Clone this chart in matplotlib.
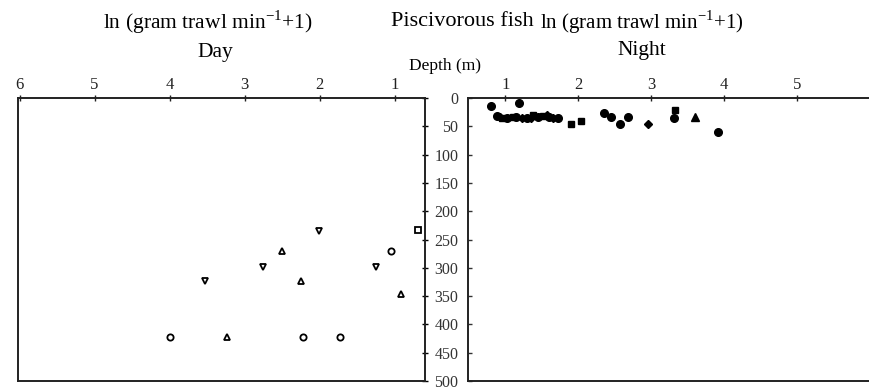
import matplotlib.pyplot as plt

plt.rcParams['font.family'] = ['Liberation Serif', 'DejaVu Serif']
plt.rcParams['mathtext.fontset'] = 'custom'
plt.rcParams['mathtext.rm'] = 'Liberation Serif'

# Day catches (open markers), depth in m
day_circle_x = [1.05, 4.0, 2.22, 1.73]
day_circle_d = [270, 422, 422, 422]
day_tri_x = [2.51, 2.25, 0.92, 3.24]
day_tri_d = [270, 323, 346, 422]
day_vtri_x = [2.01, 2.76, 1.25, 3.53]
day_vtri_d = [235, 298, 298, 323]
day_sq_x = [0.69]
day_sq_d = [234]

# Night catches (filled markers)
night_circle_x = [0.80, 1.19, 0.88, 1.02, 1.15, 1.30, 1.45, 1.60, 1.72,
                  2.35, 2.45, 2.57, 2.68, 3.31, 3.92]
night_circle_d = [14, 9, 32, 35, 34, 35, 33, 34, 36,
                  27, 34, 46, 34, 36, 60]
night_sq_x = [0.95, 1.10, 1.38, 1.52, 1.90, 2.03, 3.32]
night_sq_d = [36, 34, 30, 32, 46, 40, 21]
night_dia_x = [0.92, 1.22, 1.35, 1.57, 1.65, 2.96]
night_dia_d = [33, 36, 35, 30, 36, 46]
night_tri_x = [3.60]
night_tri_d = [34]

depth_ticks = list(range(0, 501, 50))

fig = plt.figure(figsize=(8.7, 3.89), dpi=100)
ax_day = fig.add_axes([18 / 870, 1 - 381 / 389, 407 / 870, 283 / 389])
ax_night = fig.add_axes([468 / 870, 1 - 381 / 389, 402 / 870, 283 / 389])

ms = 4.5
ax_day.plot(day_circle_x, day_circle_d, 'o', ms=ms, mfc='white', mec='black', mew=1.3)
ax_day.plot(day_tri_x, day_tri_d, '^', ms=ms, mfc='white', mec='black', mew=1.3)
ax_day.plot(day_vtri_x, day_vtri_d, 'v', ms=ms, mfc='white', mec='black', mew=1.3)
ax_day.plot(day_sq_x, day_sq_d, 's', ms=ms, mfc='white', mec='black', mew=1.3)

ms_n = 5.5
ax_night.plot(night_circle_x, night_circle_d, 'o', ms=ms_n, color='black')
ax_night.plot(night_sq_x, night_sq_d, 's', ms=ms_n - 0.5, color='black')
ax_night.plot(night_dia_x, night_dia_d, 'D', ms=ms_n - 1, color='black')
ax_night.plot(night_tri_x, night_tri_d, '^', ms=ms_n, color='black')

ax_day.set_xlim(6.02, 0.6)
ax_night.set_xlim(0.486, 5.92)
for ax in (ax_day, ax_night):
    ax.set_ylim(500, 0)
    ax.set_yticks(depth_ticks)
    ax.set_xticks([1, 2, 3, 4, 5, 6])
    ax.xaxis.tick_top()
    for s in ax.spines.values():
        s.set_linewidth(1.4)
        s.set_color('#222222')
    ax.tick_params(axis='x', direction='inout', length=4, width=1, pad=1.5,
                   labelsize=12, colors='#222222')

ax_day.yaxis.tick_right()
ax_day.tick_params(axis='y', direction='inout', length=4, width=1,
                   labelright=False)
ax_night.spines['right'].set_visible(False)
ax_night.tick_params(axis='y', direction='in', length=3, width=1, pad=7,
                     labelsize=11.5, colors='#333333')
ax_night.set_xticks([1, 2, 3, 4, 5])

lab = r'ln (gram trawl min$^{\mathregular{-1}}$+1)'
fig.text(208 / 870, 1 - 22 / 389, lab, ha='center', va='center', fontsize=15.5)
fig.text(215 / 870, 1 - 53 / 389, 'Day', ha='center', va='center', fontsize=15.5)
fig.text(462 / 870, 1 - 22 / 389, 'Piscivorous fish', ha='center', va='center', fontsize=16)
fig.text(642 / 870, 1 - 22 / 389, lab, ha='center', va='center', fontsize=15)
fig.text(642 / 870, 1 - 50 / 389, 'Night', ha='center', va='center', fontsize=15.5)
fig.text(445 / 870, 1 - 66 / 389, 'Depth (m)', ha='center', va='center', fontsize=12.5)

fig.savefig('out.png', dpi=100)
